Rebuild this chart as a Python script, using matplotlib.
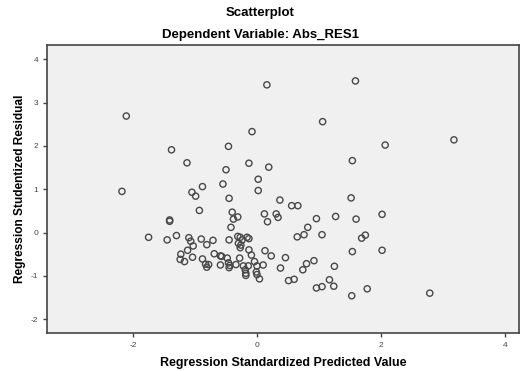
import numpy as np
import matplotlib
matplotlib.use("Agg")
import matplotlib.pyplot as plt

# ---------------------------
# data
# ---------------------------
pred = [-2.11, 0.16, -1.38, -1.13, -0.08, -0.46, -0.13, 0.19, -0.50, 0.02,
        -0.88, -0.55, -2.18, 0.02, 1.59, 1.06, 2.07, 3.18, 1.54, -1.05,
        -0.99, -0.45, -0.93, -1.41, -1.41, -0.40, -0.38, -0.31, -0.42, 0.12,
        0.17, 0.31, 0.34, 0.37, 0.56, 0.66, 1.52, 0.96, 1.27, 1.60,
        2.02, 0.82, 0.65, 0.76, 1.05, 1.69, 1.75,
        -1.75, -1.45, -1.30, -1.10, -1.07, -1.03, -1.12, -0.90, -0.81, -0.71,
        -0.45, -0.31, -0.27, -0.24, -0.16, -0.13, -0.30, -0.26, -0.27, -0.13,
        -0.09, -1.23, -1.24, -1.17, -1.04, -0.88, -0.69, -0.59, -0.57, -0.48,
        -0.28, -0.83, -0.81, -0.78, -0.59, -0.46, -0.44, -0.45, -0.34, -0.22,
        -0.19, -0.18, -0.18, -0.14, -0.04, 0.00, -0.01, 0.00, 0.04, 0.10,
        0.13, 0.23, 0.38, 0.46, 1.54, 2.02, 0.80, 0.92, 0.74, 1.25,
        0.51, 0.60, 1.17, 0.96, 1.05, 1.24, 1.78, 1.53, 2.79]
resid = [2.69, 3.41, 1.91, 1.61, 2.33, 1.99, 1.60, 1.51, 1.45, 1.23,
         1.06, 1.12, 0.95, 0.97, 3.50, 2.56, 2.02, 2.14, 1.66, 0.93,
         0.84, 0.79, 0.51, 0.29, 0.26, 0.47, 0.31, 0.36, 0.12, 0.43,
         0.25, 0.43, 0.35, 0.75, 0.62, 0.62, 0.80, 0.32, 0.37, 0.31,
         0.42, 0.12, -0.10, -0.05, -0.05, -0.13, -0.06,
         -0.11, -0.17, -0.07, -0.12, -0.20, -0.31, -0.41, -0.15, -0.28, -0.18,
         -0.17, -0.09, -0.11, -0.17, -0.11, -0.14, -0.25, -0.29, -0.35, -0.40,
         -0.52, -0.50, -0.62, -0.67, -0.57, -0.61, -0.49, -0.54, -0.55, -0.59,
         -0.59, -0.73, -0.80, -0.74, -0.75, -0.70, -0.76, -0.81, -0.74, -0.77,
         -0.86, -0.94, -0.99, -0.77, -0.67, -0.77, -0.91, -0.97, -1.07, -0.75,
         -0.42, -0.54, -0.82, -0.58, -0.44, -0.41, -0.72, -0.65, -0.86, -0.78,
         -1.11, -1.08, -1.09, -1.28, -1.25, -1.24, -1.30, -1.46, -1.40]

xticks = [-2, 0, 2, 4]
yticks = [-2, -1, 0, 1, 2, 3, 4]

# -------
# figure
# -------
plt.rcParams["font.family"] = ["Liberation Sans", "DejaVu Sans"]
plt.rcParams["axes.unicode_minus"] = False
fig = plt.figure(figsize=(5.2, 3.71), dpi=100)
ax = fig.add_axes([0.0904, 0.1024, 0.9076, 0.7763])
ax.set_facecolor("#f0f0f0")

ax.scatter(pred, resid, s=20, facecolors="none", edgecolors="#484848", linewidths=1.0)

ax.set_xlim(-3.39, 4.23)
ax.set_ylim(-2.32, 4.33)
ax.set_xticks(xticks)
ax.set_yticks(yticks)
ax.tick_params(labelsize=6, colors="#444444", length=3, width=1)
for s in ax.spines.values():
    s.set_color("#444444")
    s.set_linewidth(1.2)

ax.set_xlabel("Regression Standardized Predicted Value", fontsize=9, fontweight="bold", labelpad=6)
ax.set_ylabel("Regression Studentized Residual", fontsize=8.6, fontweight="bold", labelpad=3)
fig.text(0.5, 0.965, "Scatterplot", ha="center", va="center", fontsize=9.5, fontweight="bold")
fig.text(0.5, 0.906, "Dependent Variable: Abs_RES1", ha="center", va="center", fontsize=9.5, fontweight="bold")

fig.savefig("out.png", dpi=100)
